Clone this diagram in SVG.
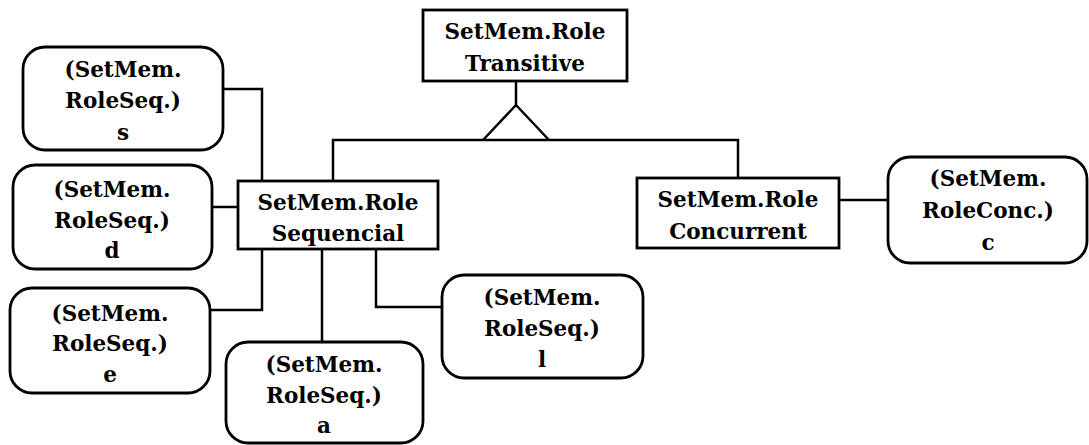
<svg xmlns="http://www.w3.org/2000/svg" width="1089" height="445" viewBox="0 0 1089 445">
  <style>
    .box { fill: #ffffff; stroke: #000000; stroke-width: 2.8; }
    .wire { fill: none; stroke: #000000; stroke-width: 2.5; stroke-linejoin: miter; }
    text { font-family: "DejaVu Serif", "Liberation Serif", serif; font-weight: bold; font-size: 21.5px; fill: #000000; text-anchor: middle; }
  </style>
  <rect width="1089" height="445" fill="#ffffff"/>

  <!-- connectors -->
  <g id="connectors">
    <!-- generalisation: Transitive to its two sub-roles -->
    <path class="wire" d="M516,81 V105 L483,140 M516,105 L549,140"/>
    <path class="wire" d="M333,181 V140 H738 V178"/>
    <!-- sequential members -->
    <path class="wire" d="M223,89 H262 V181"/>
    <path class="wire" d="M212,207 H238"/>
    <path class="wire" d="M210,310 H262 V249"/>
    <path class="wire" d="M322,249 V342"/>
    <path class="wire" d="M376,249 V307 H442"/>
    <!-- concurrent member -->
    <path class="wire" d="M839,200 H888"/>
  </g>

  <g id="transitive">
    <rect class="box" x="423" y="10" width="204" height="71"/>
    <text x="525" y="39">SetMem.Role</text>
    <text x="525" y="71">Transitive</text>
  </g>

  <g id="sequencial">
    <rect class="box" x="238" y="181" width="200" height="68"/>
    <text x="338" y="210">SetMem.Role</text>
    <text x="338" y="241">Sequencial</text>
  </g>

  <g id="concurrent">
    <rect class="box" x="637" y="178" width="202" height="70"/>
    <text x="738" y="207">SetMem.Role</text>
    <text x="738" y="239">Concurrent</text>
  </g>

  <g id="seq-s">
    <rect class="box" x="23" y="47" width="200" height="103" rx="22"/>
    <text x="123" y="77">(SetMem.</text>
    <text x="123" y="108">RoleSeq.)</text>
    <text x="123" y="140">s</text>
  </g>

  <g id="seq-d">
    <rect class="box" x="13" y="165" width="199" height="104" rx="22"/>
    <text x="112" y="197">(SetMem.</text>
    <text x="112" y="228">RoleSeq.)</text>
    <text x="112" y="258">d</text>
  </g>

  <g id="seq-e">
    <rect class="box" x="10" y="288" width="200" height="105" rx="22"/>
    <text x="110" y="321">(SetMem.</text>
    <text x="110" y="351">RoleSeq.)</text>
    <text x="110" y="382">e</text>
  </g>

  <g id="seq-a">
    <rect class="box" x="226" y="342" width="197" height="101" rx="22"/>
    <text x="324" y="372">(SetMem.</text>
    <text x="324" y="403">RoleSeq.)</text>
    <text x="324" y="433">a</text>
  </g>

  <g id="seq-l">
    <rect class="box" x="442" y="275" width="201" height="103" rx="22"/>
    <text x="542" y="305">(SetMem.</text>
    <text x="542" y="336">RoleSeq.)</text>
    <text x="542" y="367">l</text>
  </g>

  <g id="conc-c">
    <rect class="box" x="888" y="157" width="199" height="106" rx="22"/>
    <text x="988" y="186">(SetMem.</text>
    <text x="988" y="218">RoleConc.)</text>
    <text x="988" y="250">c</text>
  </g>
</svg>
